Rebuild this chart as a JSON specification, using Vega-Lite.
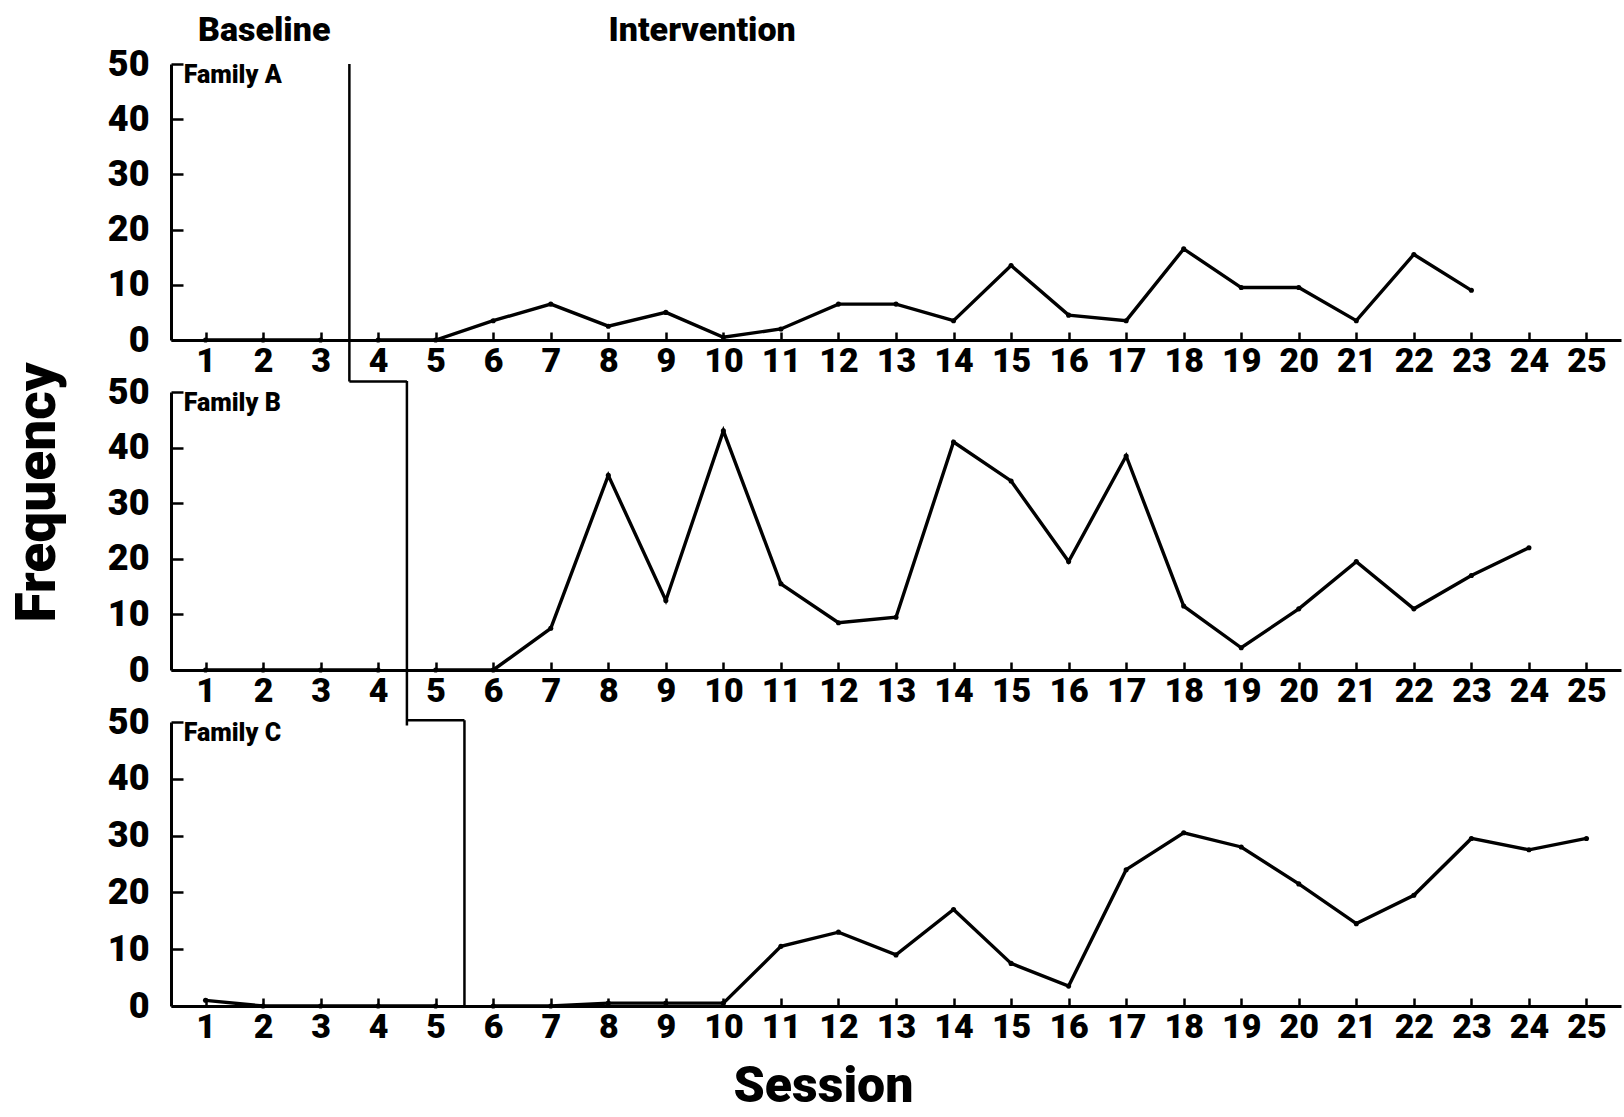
{
  "$schema": "https://vega.github.io/schema/vega-lite/v6.json",
  "autosize": {"type": "none"},
  "padding": {"left": 171, "top": 64, "right": 1453, "bottom": 1053},
  "background": "white",
  "spacing": 52,
  "bounds": "flush",
  "config": {
    "view": {"stroke": null},
    "font": "Roboto",
    "axis": {
      "grid": false,
      "domainColor": "black",
      "domainWidth": 3,
      "tickColor": "black",
      "tickWidth": 2.5,
      "labelFont": "Roboto",
      "labelFontWeight": 900,
      "labelColor": "black",
      "labelOverlap": false,
      "labelFlush": false,
      "titleFont": "Roboto",
      "titleFontWeight": 900,
      "titleColor": "black"
    }
  },
  "datasets": {
    "sessions": [
      {"family": "A", "phase": "Baseline", "session": 1, "freq": 0},
      {"family": "A", "phase": "Baseline", "session": 2, "freq": 0},
      {"family": "A", "phase": "Baseline", "session": 3, "freq": 0},
      {"family": "A", "phase": "Intervention", "session": 4, "freq": 0},
      {"family": "A", "phase": "Intervention", "session": 5, "freq": 0},
      {"family": "A", "phase": "Intervention", "session": 6, "freq": 3.5},
      {"family": "A", "phase": "Intervention", "session": 7, "freq": 6.5},
      {"family": "A", "phase": "Intervention", "session": 8, "freq": 2.5},
      {"family": "A", "phase": "Intervention", "session": 9, "freq": 5},
      {"family": "A", "phase": "Intervention", "session": 10, "freq": 0.5},
      {"family": "A", "phase": "Intervention", "session": 11, "freq": 2},
      {"family": "A", "phase": "Intervention", "session": 12, "freq": 6.5},
      {"family": "A", "phase": "Intervention", "session": 13, "freq": 6.5},
      {"family": "A", "phase": "Intervention", "session": 14, "freq": 3.5},
      {"family": "A", "phase": "Intervention", "session": 15, "freq": 13.5},
      {"family": "A", "phase": "Intervention", "session": 16, "freq": 4.5},
      {"family": "A", "phase": "Intervention", "session": 17, "freq": 3.5},
      {"family": "A", "phase": "Intervention", "session": 18, "freq": 16.5},
      {"family": "A", "phase": "Intervention", "session": 19, "freq": 9.5},
      {"family": "A", "phase": "Intervention", "session": 20, "freq": 9.5},
      {"family": "A", "phase": "Intervention", "session": 21, "freq": 3.5},
      {"family": "A", "phase": "Intervention", "session": 22, "freq": 15.5},
      {"family": "A", "phase": "Intervention", "session": 23, "freq": 9},
      {"family": "B", "phase": "Baseline", "session": 1, "freq": 0},
      {"family": "B", "phase": "Baseline", "session": 2, "freq": 0},
      {"family": "B", "phase": "Baseline", "session": 3, "freq": 0},
      {"family": "B", "phase": "Baseline", "session": 4, "freq": 0},
      {"family": "B", "phase": "Intervention", "session": 5, "freq": 0},
      {"family": "B", "phase": "Intervention", "session": 6, "freq": 0},
      {"family": "B", "phase": "Intervention", "session": 7, "freq": 7.5},
      {"family": "B", "phase": "Intervention", "session": 8, "freq": 35},
      {"family": "B", "phase": "Intervention", "session": 9, "freq": 12.5},
      {"family": "B", "phase": "Intervention", "session": 10, "freq": 43},
      {"family": "B", "phase": "Intervention", "session": 11, "freq": 15.5},
      {"family": "B", "phase": "Intervention", "session": 12, "freq": 8.5},
      {"family": "B", "phase": "Intervention", "session": 13, "freq": 9.5},
      {"family": "B", "phase": "Intervention", "session": 14, "freq": 41},
      {"family": "B", "phase": "Intervention", "session": 15, "freq": 34},
      {"family": "B", "phase": "Intervention", "session": 16, "freq": 19.5},
      {"family": "B", "phase": "Intervention", "session": 17, "freq": 38.5},
      {"family": "B", "phase": "Intervention", "session": 18, "freq": 11.5},
      {"family": "B", "phase": "Intervention", "session": 19, "freq": 4},
      {"family": "B", "phase": "Intervention", "session": 20, "freq": 11},
      {"family": "B", "phase": "Intervention", "session": 21, "freq": 19.5},
      {"family": "B", "phase": "Intervention", "session": 22, "freq": 11},
      {"family": "B", "phase": "Intervention", "session": 23, "freq": 17},
      {"family": "B", "phase": "Intervention", "session": 24, "freq": 22},
      {"family": "C", "phase": "Baseline", "session": 1, "freq": 1},
      {"family": "C", "phase": "Baseline", "session": 2, "freq": 0},
      {"family": "C", "phase": "Baseline", "session": 3, "freq": 0},
      {"family": "C", "phase": "Baseline", "session": 4, "freq": 0},
      {"family": "C", "phase": "Baseline", "session": 5, "freq": 0},
      {"family": "C", "phase": "Intervention", "session": 6, "freq": 0},
      {"family": "C", "phase": "Intervention", "session": 7, "freq": 0},
      {"family": "C", "phase": "Intervention", "session": 8, "freq": 0.5},
      {"family": "C", "phase": "Intervention", "session": 9, "freq": 0.5},
      {"family": "C", "phase": "Intervention", "session": 10, "freq": 0.5},
      {"family": "C", "phase": "Intervention", "session": 11, "freq": 10.5},
      {"family": "C", "phase": "Intervention", "session": 12, "freq": 13},
      {"family": "C", "phase": "Intervention", "session": 13, "freq": 9},
      {"family": "C", "phase": "Intervention", "session": 14, "freq": 17},
      {"family": "C", "phase": "Intervention", "session": 15, "freq": 7.5},
      {"family": "C", "phase": "Intervention", "session": 16, "freq": 3.5},
      {"family": "C", "phase": "Intervention", "session": 17, "freq": 24},
      {"family": "C", "phase": "Intervention", "session": 18, "freq": 30.5},
      {"family": "C", "phase": "Intervention", "session": 19, "freq": 28},
      {"family": "C", "phase": "Intervention", "session": 20, "freq": 21.5},
      {"family": "C", "phase": "Intervention", "session": 21, "freq": 14.5},
      {"family": "C", "phase": "Intervention", "session": 22, "freq": 19.5},
      {"family": "C", "phase": "Intervention", "session": 23, "freq": 29.5},
      {"family": "C", "phase": "Intervention", "session": 24, "freq": 27.5},
      {"family": "C", "phase": "Intervention", "session": 25, "freq": 29.5}
    ]
  },
  "vconcat": [
    {
      "width": 1450,
      "height": 276,
      "layer": [
        {
          "data": {"name": "sessions"},
          "transform": [{"filter": "datum.family === 'A'"}],
          "mark": {"type": "line", "color": "black", "strokeWidth": 3.4},
          "encoding": {
            "x": {"field": "session", "type": "quantitative",
              "scale": {"domain": [0.4, 25.6], "nice": false, "zero": false},
              "axis": {"values": [1,2,3,4,5,6,7,8,9,10,11,12,13,14,15,16,17,18,19,20,21,22,23,24,25], "format": "d", "tickSize": -8, "labelFontSize": 34, "labelPadding": 12, "title": null}},
            "y": {"field": "freq", "type": "quantitative",
              "scale": {"domain": [0, 50], "nice": false},
              "axis": {"values": [0,10,20,30,40,50], "format": "d", "tickSize": -12, "labelFontSize": 36, "labelPadding": 34, "title": null}},
            "detail": {"field": "phase"}
          }
        },
        {
          "data": {"name": "sessions"},
          "transform": [{"filter": "datum.family === 'A'"}],
          "mark": {"type": "point", "filled": true, "color": "black", "size": 26, "opacity": 1},
          "encoding": {
            "x": {"field": "session", "type": "quantitative"},
            "y": {"field": "freq", "type": "quantitative"}
          }
        },
        {
          "data": {"values": [{}]},
          "mark": {"type": "rule", "color": "black", "strokeWidth": 2.5},
          "encoding": {"x": {"datum": 3.5}, "y": {"datum": 50}, "y2": {"datum": -7.5}}
        },
        {
          "data": {"values": [{}]},
          "mark": {"type": "rule", "color": "black", "strokeWidth": 2.5},
          "encoding": {"x": {"datum": 3.5}, "x2": {"datum": 4.5}, "y": {"datum": -7.5}}
        },
        {
          "data": {"values": [{}]},
          "mark": {"type": "text", "align": "left", "baseline": "middle", "fontSize": 25, "fontWeight": 900, "color": "black"},
          "encoding": {"x": {"datum": 0.62}, "y": {"datum": 48}, "text": {"value": "Family A"}}
        },
        {
          "data": {"values": [{}]},
          "mark": {"type": "text", "align": "center", "baseline": "middle", "fontSize": 34, "fontWeight": 900, "color": "black"},
          "encoding": {"x": {"datum": 2.02}, "y": {"datum": 56}, "text": {"value": "Baseline"}}
        },
        {
          "data": {"values": [{}]},
          "mark": {"type": "text", "align": "center", "baseline": "middle", "fontSize": 34, "fontWeight": 900, "color": "black"},
          "encoding": {"x": {"datum": 9.63}, "y": {"datum": 56}, "text": {"value": "Intervention"}}
        }
      ]
    },
    {
      "width": 1450,
      "height": 278,
      "layer": [
        {
          "data": {"name": "sessions"},
          "transform": [{"filter": "datum.family === 'B'"}],
          "mark": {"type": "line", "color": "black", "strokeWidth": 3.4},
          "encoding": {
            "x": {"field": "session", "type": "quantitative",
              "scale": {"domain": [0.4, 25.6], "nice": false, "zero": false},
              "axis": {"values": [1,2,3,4,5,6,7,8,9,10,11,12,13,14,15,16,17,18,19,20,21,22,23,24,25], "format": "d", "tickSize": -8, "labelFontSize": 34, "labelPadding": 12, "title": null}},
            "y": {"field": "freq", "type": "quantitative",
              "scale": {"domain": [0, 50], "nice": false},
              "axis": {"values": [0,10,20,30,40,50], "format": "d", "tickSize": -12, "labelFontSize": 36, "labelPadding": 34, "title": "Frequency", "titleFontSize": 55, "titleX": -105, "titleY": 100}},
            "detail": {"field": "phase"}
          }
        },
        {
          "data": {"name": "sessions"},
          "transform": [{"filter": "datum.family === 'B'"}],
          "mark": {"type": "point", "filled": true, "color": "black", "size": 26, "opacity": 1},
          "encoding": {
            "x": {"field": "session", "type": "quantitative"},
            "y": {"field": "freq", "type": "quantitative"}
          }
        },
        {
          "data": {"values": [{}]},
          "mark": {"type": "rule", "color": "black", "strokeWidth": 2.5},
          "encoding": {"x": {"datum": 4.5}, "y": {"datum": 52}, "y2": {"datum": -10}}
        },
        {
          "data": {"values": [{}]},
          "mark": {"type": "text", "align": "left", "baseline": "middle", "fontSize": 25, "fontWeight": 900, "color": "black"},
          "encoding": {"x": {"datum": 0.62}, "y": {"datum": 48}, "text": {"value": "Family B"}}
        }
      ]
    },
    {
      "width": 1450,
      "height": 284,
      "layer": [
        {
          "data": {"name": "sessions"},
          "transform": [{"filter": "datum.family === 'C'"}],
          "mark": {"type": "line", "color": "black", "strokeWidth": 3.4},
          "encoding": {
            "x": {"field": "session", "type": "quantitative",
              "scale": {"domain": [0.4, 25.6], "nice": false, "zero": false},
              "axis": {"values": [1,2,3,4,5,6,7,8,9,10,11,12,13,14,15,16,17,18,19,20,21,22,23,24,25], "format": "d", "tickSize": -8, "labelFontSize": 34, "labelPadding": 12, "title": "Session", "titleFontSize": 50, "titleX": 652, "titleY": 80, "titleBaseline": "middle"}},
            "y": {"field": "freq", "type": "quantitative",
              "scale": {"domain": [0, 50], "nice": false},
              "axis": {"values": [0,10,20,30,40,50], "format": "d", "tickSize": -12, "labelFontSize": 36, "labelPadding": 34, "title": null}},
            "detail": {"field": "phase"}
          }
        },
        {
          "data": {"name": "sessions"},
          "transform": [{"filter": "datum.family === 'C'"}],
          "mark": {"type": "point", "filled": true, "color": "black", "size": 26, "opacity": 1},
          "encoding": {
            "x": {"field": "session", "type": "quantitative"},
            "y": {"field": "freq", "type": "quantitative"}
          }
        },
        {
          "data": {"values": [{}]},
          "mark": {"type": "rule", "color": "black", "strokeWidth": 2.5},
          "encoding": {"x": {"datum": 4.5}, "x2": {"datum": 5.5}, "y": {"datum": 50.3}}
        },
        {
          "data": {"values": [{}]},
          "mark": {"type": "rule", "color": "black", "strokeWidth": 2.5},
          "encoding": {"x": {"datum": 5.5}, "y": {"datum": 50.3}, "y2": {"datum": 0}}
        },
        {
          "data": {"values": [{}]},
          "mark": {"type": "text", "align": "left", "baseline": "middle", "fontSize": 25, "fontWeight": 900, "color": "black"},
          "encoding": {"x": {"datum": 0.62}, "y": {"datum": 48}, "text": {"value": "Family C"}}
        }
      ]
    }
  ]
}
